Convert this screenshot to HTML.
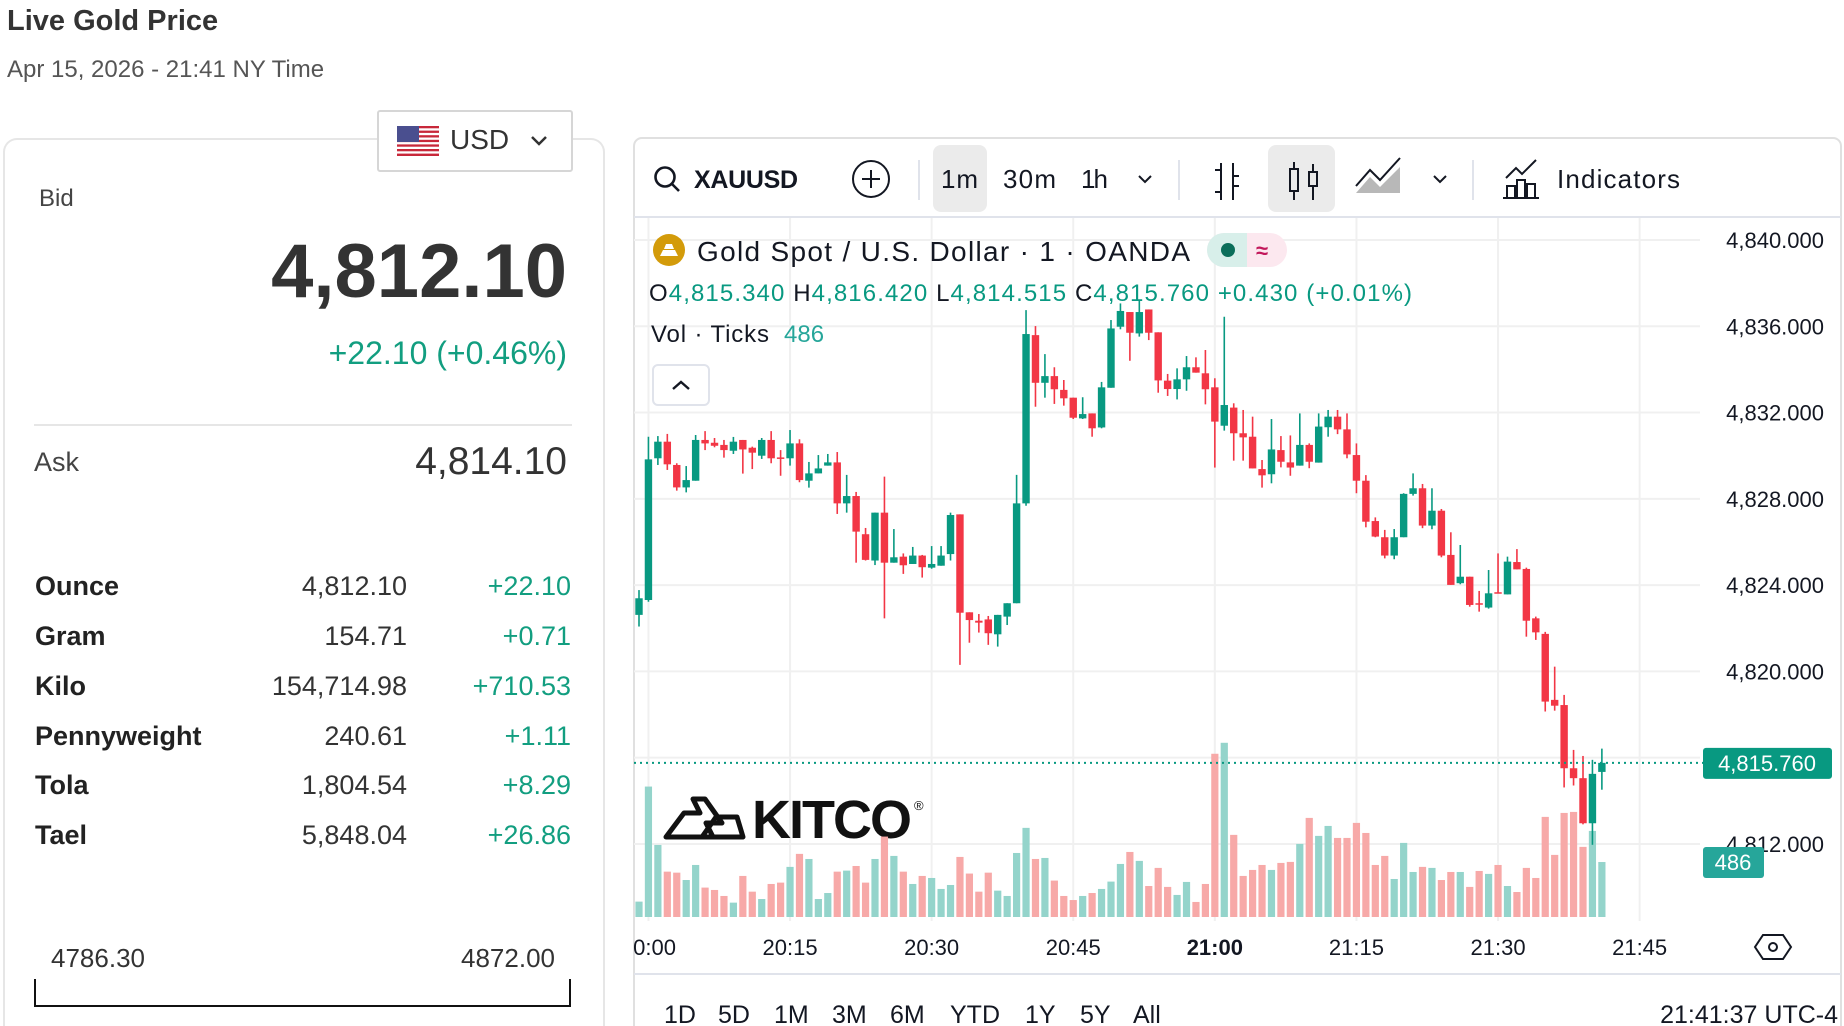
<!DOCTYPE html>
<html><head><meta charset="utf-8">
<style>
html,body{margin:0;padding:0;background:#fff;width:1844px;height:1026px;overflow:hidden;font-family:"Liberation Sans",sans-serif;color:#333}
#root{position:relative;width:1844px;height:1026px;overflow:hidden}
.a{position:absolute;white-space:nowrap}
.row-l{position:absolute;left:35px;font-weight:bold;font-size:27px;color:#222}
.row-v{position:absolute;right:1437px;font-size:27px;color:#333;text-align:right}
.row-c{position:absolute;right:1273px;font-size:27px;color:#129e80;text-align:right}
</style></head><body>
<div id="root">
<div class="a" style="left:7px;top:5px;font-size:29px;font-weight:bold;color:#333">Live Gold Price</div>
<div class="a" style="left:7px;top:56px;font-size:24px;color:#555">Apr 15, 2026 - 21:41 NY Time</div>

<div class="a" style="left:3px;top:138px;width:598px;height:886px;border:2px solid #e6e6e6;border-bottom:none;border-radius:14px 14px 0 0"></div>
<div class="a" style="left:377px;top:110px;width:192px;height:58px;border:2px solid #d6d6d6;border-radius:3px;background:#fff">
  <svg width="42" height="30" style="position:absolute;left:18px;top:14px" viewBox="0 0 42 30">
    <rect width="42" height="30" fill="#fff"/>
    <g fill="#c8283a"><rect y="0" width="42" height="2.3"/><rect y="4.6" width="42" height="2.3"/><rect y="9.2" width="42" height="2.3"/><rect y="13.8" width="42" height="2.3"/><rect y="18.4" width="42" height="2.3"/><rect y="23" width="42" height="2.3"/><rect y="27.6" width="42" height="2.4"/></g>
    <rect width="22" height="16" fill="#4a4f8f"/>
  </svg>
  <span style="position:absolute;left:71px;top:12px;font-size:28px;color:#333">USD</span>
  <svg width="20" height="14" style="position:absolute;left:150px;top:22px"><path d="M3 3 L10 10 L17 3" fill="none" stroke="#333" stroke-width="2.5"/></svg>
</div>
<div class="a" style="left:39px;top:185px;font-size:24px;color:#444">Bid</div>
<div class="a" style="right:1277px;top:228px;font-size:76px;font-weight:bold;color:#333">4,812.10</div>
<div class="a" style="right:1277px;top:335px;font-size:32px;color:#129e80">+22.10 (+0.46%)</div>
<div class="a" style="left:34px;top:424px;width:538px;height:2px;background:#e6e6e6"></div>
<div class="a" style="left:34px;top:447px;font-size:27px;color:#444">Ask</div>
<div class="a" style="right:1277px;top:440px;font-size:39px;color:#333">4,814.10</div>

<div>
<div class="row-l" style="top:571px">Ounce</div><div class="row-v" style="top:571px">4,812.10</div><div class="row-c" style="top:571px">+22.10</div>
<div class="row-l" style="top:621px">Gram</div><div class="row-v" style="top:621px">154.71</div><div class="row-c" style="top:621px">+0.71</div>
<div class="row-l" style="top:671px">Kilo</div><div class="row-v" style="top:671px">154,714.98</div><div class="row-c" style="top:671px">+710.53</div>
<div class="row-l" style="top:721px">Pennyweight</div><div class="row-v" style="top:721px">240.61</div><div class="row-c" style="top:721px">+1.11</div>
<div class="row-l" style="top:770px">Tola</div><div class="row-v" style="top:770px">1,804.54</div><div class="row-c" style="top:770px">+8.29</div>
<div class="row-l" style="top:820px">Tael</div><div class="row-v" style="top:820px">5,848.04</div><div class="row-c" style="top:820px">+26.86</div>
</div>
<div class="a" style="left:51px;top:943px;font-size:26px;color:#333">4786.30</div>
<div class="a" style="right:1289px;top:943px;font-size:26px;color:#333">4872.00</div>
<div class="a" style="left:34px;top:979px;width:533px;height:26px;border:2px solid #111;border-top:none"></div>

<svg id="chart" width="1844" height="1026" style="position:absolute;left:0;top:0" font-family="Liberation Sans, sans-serif">
  <defs><clipPath id="panel"><rect x="634" y="139" width="1208" height="887"/></clipPath></defs>
  <path d="M634 1026 V146 a8 8 0 0 1 8 -8 H1833 a8 8 0 0 1 8 8 V1026" fill="none" stroke="#e0e0e0" stroke-width="2"/>
  <g>
    <g><circle cx="665" cy="177" r="9.5" fill="none" stroke="#131722" stroke-width="2.6"/><line x1="672" y1="184" x2="679" y2="191" stroke="#131722" stroke-width="2.6"/>
    <text x="694" y="188" font-size="25" font-weight="bold" fill="#131722" textLength="104">XAUUSD</text></g>
    <g><circle cx="871" cy="179" r="18" fill="none" stroke="#131722" stroke-width="2"/><path d="M871 170v18M862 179h18" stroke="#131722" stroke-width="2"/></g>
    <line x1="919" y1="160" x2="919" y2="200" stroke="#e0e3eb" stroke-width="2"/>
    <rect x="933" y="145" width="54" height="67" rx="8" fill="#ebebeb"/>
    <text x="941" y="188" font-size="26" fill="#131722" textLength="37">1m</text>
    <text x="1003" y="188" font-size="26" fill="#131722" textLength="53">30m</text>
    <text x="1081" y="188" font-size="26" fill="#131722" textLength="27">1h</text>
    <path d="M1139 176l6 6 6-6" fill="none" stroke="#131722" stroke-width="2"/>
    <line x1="1179" y1="160" x2="1179" y2="200" stroke="#e0e3eb" stroke-width="2"/>
    <g stroke="#131722" stroke-width="2" fill="none"><path d="M1221 163v37M1221 170h-6M1221 192h-6M1233 163v37M1233 176h6M1233 186h6"/></g>
    <rect x="1268" y="145" width="67" height="67" rx="8" fill="#ebebeb"/>
    <g stroke="#131722" stroke-width="2" fill="none"><path d="M1294 162v38M1313 164v36"/><rect x="1290" y="169" width="8" height="22" fill="#ebebeb"/><rect x="1309" y="172" width="8" height="14" fill="#ebebeb"/></g>
    <g><path d="M1356 193l14-16 10 10 20-20v26z" fill="#888" opacity="0.6"/><path d="M1356 186l14-16 10 10 20-22" fill="none" stroke="#131722" stroke-width="2"/></g>
    <path d="M1434 176l6 6 6-6" fill="none" stroke="#131722" stroke-width="2"/>
    <line x1="1473" y1="160" x2="1473" y2="200" stroke="#e0e3eb" stroke-width="2"/>
    <g><g stroke="#131722" stroke-width="2" fill="none"><path d="M1506 178l10-10 6 6 14-14"/><rect x="1507" y="186" width="8" height="12"/><rect x="1517" y="180" width="8" height="18"/><rect x="1527" y="184" width="8" height="14"/><path d="M1503 198h36"/></g>
    <text x="1557" y="188" font-size="26" fill="#131722" textLength="123">Indicators</text></g>
  </g>
  <line x1="634" y1="217" x2="1841" y2="217" stroke="#e0e3eb" stroke-width="2"/>
  <g id="plot" clip-path="url(#panel)"></g>
  <g>
    <circle cx="669" cy="250" r="16" fill="#d39b0a"/><path d="M660 256h18l-3-6h-12zM664 249h10l-2-5h-6z" fill="#fff"/>
    <text x="697" y="261" font-size="28" fill="#131722" textLength="493">Gold Spot / U.S. Dollar · 1 · OANDA</text>
    <rect x="1207" y="233" width="80" height="34" rx="17" fill="#fce8ef"/><path d="M1224 233h23v34h-23a17 17 0 0 1 0-34z" fill="#d8efea"/>
    <circle cx="1228" cy="250" r="7" fill="#0b6e5a"/><text x="1256" y="258" font-size="22" font-weight="bold" fill="#c2185b">≈</text>
    <text x="649" y="301" font-size="24" fill="#089981" textLength="763"><tspan fill="#131722">O</tspan>4,815.340 <tspan fill="#131722">H</tspan>4,816.420 <tspan fill="#131722">L</tspan>4,814.515 <tspan fill="#131722">C</tspan>4,815.760 +0.430 (+0.01%)</text>
    <text x="651" y="342" font-size="24" fill="#131722" textLength="118">Vol · Ticks</text><text x="784" y="342" font-size="24" fill="#26a69a">486</text>
  </g>
  <g><rect x="653" y="365" width="56" height="40" rx="5" fill="#fff" stroke="#e0e3eb" stroke-width="2"/><path d="M673 389l8-7 8 7" fill="none" stroke="#131722" stroke-width="2.4"/></g>
  <g id="axes"></g>
  <g><path d="M1763 935h20l8 12-8 12h-20l-8-12z" fill="none" stroke="#131722" stroke-width="2"/><circle cx="1773" cy="947" r="4" fill="none" stroke="#131722" stroke-width="2"/></g>
  <line x1="634" y1="974" x2="1841" y2="974" stroke="#e0e3eb" stroke-width="2"/>
  <g font-size="25" fill="#131722">
    <text x="664" y="1023">1D</text><text x="718" y="1023">5D</text><text x="774" y="1023">1M</text><text x="832" y="1023">3M</text><text x="890" y="1023">6M</text><text x="950" y="1023">YTD</text><text x="1025" y="1023">1Y</text><text x="1080" y="1023">5Y</text><text x="1133" y="1023">All</text>
  </g>
  <text x="1838" y="1023" text-anchor="end" font-size="25" fill="#131722">21:41:37 UTC-4</text>
</svg>
</div>

<script>
const opens=[4822.62,4823.31,4829.88,4830.65,4829.57,4828.53,4828.84,4830.73,4830.60,4830.50,4830.23,4830.73,4830.37,4830.00,4830.73,4829.92,4829.88,4830.57,4828.84,4829.18,4829.54,4829.69,4827.79,4828.13,4826.36,4825.14,4827.36,4825.04,4825.32,4824.98,4825.37,4824.81,4824.90,4825.44,4827.28,4822.74,4822.35,4822.41,4821.72,4822.54,4823.16,4827.79,4835.59,4833.38,4833.69,4833.05,4832.69,4831.73,4831.96,4831.31,4833.15,4835.98,4836.66,4835.67,4836.78,4835.72,4833.48,4833.09,4833.54,4834.10,4833.82,4833.17,4831.39,4832.23,4831.04,4830.88,4829.38,4829.14,4830.26,4829.69,4829.54,4830.50,4829.68,4831.32,4831.81,4831.22,4830.03,4828.84,4826.97,4826.22,4825.37,4826.22,4828.23,4828.49,4826.76,4827.45,4825.40,4824.09,4824.39,4823.16,4822.96,4823.67,4823.57,4825.07,4824.75,4822.46,4821.74,4818.68,4818.44,4815.51,4815.05,4812.96,4815.34];
const highs=[4823.77,4830.88,4830.91,4831.01,4829.65,4829.52,4830.96,4831.14,4830.82,4830.73,4830.87,4830.73,4830.42,4830.82,4831.14,4830.26,4831.19,4830.76,4829.71,4830.03,4830.08,4830.17,4829.11,4828.32,4826.65,4827.36,4829.03,4826.60,4825.47,4825.77,4825.40,4825.81,4825.81,4827.36,4827.28,4822.74,4822.66,4822.57,4822.62,4823.16,4829.11,4836.75,4836.01,4834.71,4834.10,4833.51,4832.69,4832.71,4831.96,4833.42,4836.29,4837.06,4836.66,4837.22,4836.78,4835.72,4833.79,4834.05,4834.62,4834.56,4834.90,4833.59,4836.44,4832.43,4832.12,4831.81,4829.80,4831.70,4830.91,4830.94,4831.96,4830.57,4831.96,4832.12,4832.12,4831.96,4830.57,4829.10,4827.14,4826.56,4826.60,4828.26,4829.18,4828.69,4828.49,4827.53,4826.45,4825.86,4824.39,4823.73,4824.70,4825.47,4825.32,4825.67,4824.81,4822.54,4821.83,4820.22,4818.91,4816.36,4816.08,4815.90,4816.42];
const lows=[4822.08,4823.23,4829.57,4829.34,4828.38,4828.30,4828.84,4830.26,4830.39,4829.91,4830.08,4829.17,4829.38,4829.85,4829.65,4829.07,4829.54,4828.77,4828.52,4829.18,4829.54,4827.30,4827.36,4825.04,4825.14,4824.93,4822.46,4825.04,4824.52,4824.98,4824.35,4824.76,4824.90,4825.14,4820.30,4821.33,4821.80,4821.23,4821.15,4822.15,4823.16,4827.68,4832.27,4832.69,4832.40,4832.32,4831.70,4831.70,4830.88,4831.27,4833.15,4835.86,4834.40,4835.52,4835.36,4832.92,4832.77,4832.61,4833.01,4833.85,4832.38,4829.45,4831.16,4829.77,4829.77,4829.41,4828.52,4828.72,4829.46,4829.07,4829.54,4829.42,4829.68,4830.88,4831.00,4829.88,4828.26,4826.68,4826.22,4825.24,4825.20,4826.22,4828.15,4826.64,4826.59,4825.29,4824.01,4824.04,4823.00,4822.77,4822.91,4823.62,4823.57,4824.73,4821.61,4821.46,4818.14,4818.18,4814.62,4814.71,4812.91,4811.96,4814.515];
const closes=[4823.39,4829.83,4830.65,4829.60,4828.53,4828.87,4830.73,4830.57,4830.46,4830.26,4830.65,4830.29,4830.14,4830.73,4829.88,4829.90,4830.57,4828.87,4829.18,4829.41,4829.69,4827.79,4828.13,4826.48,4825.17,4827.36,4825.04,4825.29,4824.92,4825.37,4824.83,4824.98,4825.37,4827.25,4822.72,4822.38,4822.26,4821.77,4822.62,4823.16,4827.79,4835.64,4833.38,4833.69,4833.08,4832.66,4831.76,4831.93,4831.27,4833.17,4835.90,4836.71,4835.70,4836.66,4835.70,4833.49,4833.09,4833.54,4834.10,4833.85,4833.08,4831.58,4832.35,4831.04,4830.85,4829.41,4829.09,4830.29,4829.72,4829.45,4830.50,4829.72,4831.35,4831.81,4831.22,4830.06,4828.84,4826.94,4826.25,4825.37,4826.22,4828.23,4828.49,4826.76,4827.45,4825.37,4824.01,4824.39,4823.08,4823.10,4823.62,4823.62,4825.09,4824.73,4822.35,4821.81,4818.60,4818.41,4815.51,4815.05,4812.96,4815.25,4815.76];
const volumes=[136,1153,637,401,392,327,460,260,239,186,127,363,224,159,292,304,443,558,513,159,212,401,410,451,304,513,711,540,401,292,363,345,248,283,531,384,224,392,233,186,566,788,513,522,322,186,150,186,212,248,313,469,575,496,274,434,266,195,310,133,292,1443,1540,726,363,416,460,416,478,487,646,876,717,805,699,699,832,743,460,540,336,655,398,443,434,327,398,398,266,407,381,460,274,221,434,345,885,549,920,929,620,761,486];
const priceTicks=[4840,4836,4832,4828,4824,4820,4812];
const timeTickLabels=["20:00","20:15","20:30","20:45","21:00","21:15","21:30","21:45"];
const timeTickIndex=[1,16,31,46,61,76,91,106];
const lastPrice=4815.76;

const NS="http://www.w3.org/2000/svg";
const X0=639, DX=9.44, Y0=240, PY=21.57, VB=917, VK=8.84;
const xScale=i=>X0+i*DX;
const yScale=p=>Y0+(4840-p)*PY;
const vScale=v=>v/VK;
function mk(tag,attrs,parent){const e=document.createElementNS(NS,tag);for(const k in attrs)e.setAttribute(k,attrs[k]);parent.appendChild(e);return e;}
const plot=document.getElementById('plot');
const axes=document.getElementById('axes');
const grid=mk('g',{},plot);


priceTicks.concat([4816]).forEach(p=>{mk('line',{x1:634,x2:1700,y1:yScale(p),y2:yScale(p),stroke:'#f0f0f0','stroke-width':2},grid);});
timeTickIndex.forEach(i=>{mk('line',{x1:xScale(i),x2:xScale(i),y1:218,y2:921,stroke:'#f0f0f0','stroke-width':2},grid);});
const wm=mk('g',{},plot);


mk('path',{d:'M666 837 L684 813 L700 813 L693 799 L705 799 L722 823 L706 823 L713 837 Z M702 837 L716 817 L737 817 L743 837 Z',fill:'none',stroke:'#111','stroke-width':5,'stroke-linejoin':'round'},wm);
const wt=mk('text',{x:752,y:838,'font-size':54,'font-weight':'bold',fill:'#111',textLength:160},wm);
wt.textContent='KITCO';
const wr=mk('text',{x:914,y:810,'font-size':13,fill:'#111'},wm);
wr.textContent='®';
const vg=mk('g',{},plot);


volumes.forEach((v,i)=>{const up=closes[i]>=opens[i];const h=vScale(v);
  const r=mk('rect',{x:xScale(i)-3.6,y:VB-h,width:7.2,height:h,fill:up?'#94d4cb':'#f7a9a8'},vg);
  
  });
const cg=mk('g',{},plot);


opens.forEach((o,i)=>{const c=closes[i];const up=c>=o;const col=up?'#089981':'#f23645';const x=xScale(i);
  const g=mk('g',{},cg);
  
  
  mk('line',{x1:x,x2:x,y1:yScale(highs[i]),y2:yScale(lows[i]),stroke:col,'stroke-width':1.6},g);
  const t=yScale(Math.max(o,c)),b=yScale(Math.min(o,c));
  mk('rect',{x:x-3.7,y:t,width:7.4,height:Math.max(1.5,b-t),fill:col},g);});
const lp=mk('line',{x1:634,x2:1703,y1:yScale(lastPrice),y2:yScale(lastPrice),stroke:'#089981','stroke-width':2,'stroke-dasharray':'2 4'},plot);


priceTicks.forEach(p=>{const t=mk('text',{x:1824,y:yScale(p)+8,'text-anchor':'end','font-size':22,fill:'#131722'},axes);
  
  
  t.textContent=p.toLocaleString('en-US',{minimumFractionDigits:3});});
const lb=mk('g',{},axes);


mk('rect',{x:1703,y:yScale(lastPrice)-15,width:129,height:31,rx:3,fill:'#089981'},lb);
const lt=mk('text',{x:1767,y:yScale(lastPrice)+8,'text-anchor':'middle','font-size':22,fill:'#fff'},lb);
lt.textContent=lastPrice.toLocaleString('en-US',{minimumFractionDigits:3});
const vl=mk('g',{},axes);


const lastV=volumes[volumes.length-1];
mk('rect',{x:1703,y:VB-vScale(lastV)-15,width:61,height:31,rx:3,fill:'#26a69a'},vl);
const vt=mk('text',{x:1733,y:VB-vScale(lastV)+8,'text-anchor':'middle','font-size':22,fill:'#fff'},vl);
vt.textContent=String(lastV);
const tg=mk('g',{'clip-path':'url(#panel)'},axes);
timeTickLabels.forEach((s,k)=>{const t=mk('text',{x:xScale(timeTickIndex[k]),y:955,'text-anchor':'middle','font-size':22,fill:'#131722','font-weight':s==='21:00'?'bold':'normal'},tg);
  
  
  t.textContent=s;});
</script>
</body></html>
